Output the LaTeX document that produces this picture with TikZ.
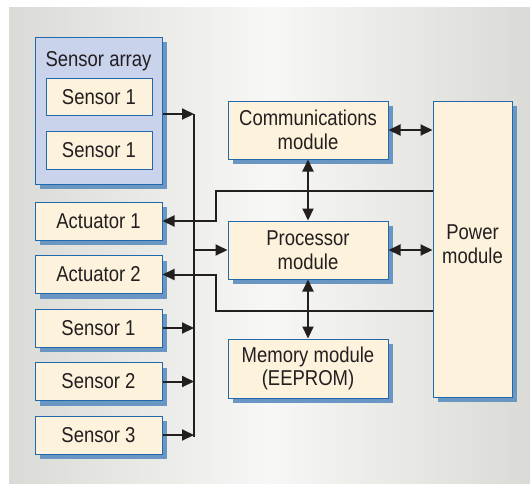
\documentclass[tikz,border=0pt]{standalone}
\usepackage{fontspec}
\setmainfont{Liberation Sans}[FakeStretch=0.86]
\usetikzlibrary{arrows.meta,shadows}
\definecolor{boxfill}{HTML}{FDF2DC}
\definecolor{boxline}{HTML}{2169AB}
\definecolor{shadowblue}{HTML}{6A96C3}
\definecolor{arrayfill}{HTML}{C9D3EC}
\definecolor{inkblack}{HTML}{231F20}
\definecolor{panelside}{HTML}{DADBD6}
\definecolor{panelmid}{HTML}{F7F7F5}
\begin{document}
\begin{tikzpicture}[x=1pt,y=-1pt,font=\fontsize{21.5}{23.5}\selectfont]
\tikzset{module/.style={draw=boxline,line width=1pt,fill=boxfill,text=inkblack,align=center,inner sep=0pt,
  minimum width=127pt,minimum height=38pt,
  drop shadow={shadow xshift=5pt,shadow yshift=-5pt,fill=shadowblue,opacity=1}}}
\tikzset{inner/.style={draw=boxline,line width=1pt,fill=boxfill,text=inkblack,inner sep=0pt,
  minimum width=106pt,minimum height=37.5pt}}
\tikzset{bus/.style={line width=2pt,draw=inkblack}}
\tikzset{onearrow/.style={-{Triangle[length=12pt,width=11pt]}}}
\tikzset{twoarrow/.style={{Triangle[length=12pt,width=11pt]}-{Triangle[length=12pt,width=11pt]}}}
% background panel
\useasboundingbox (0,0) rectangle (530,483);
\shade[left color=panelside,right color=panelside,middle color=panelmid] (9,7) rectangle (530,483);
% sensor array
\node[module,fill=arrayfill,minimum width=127pt,minimum height=147pt] (sarray) at (98.5,110.5) {};
\node[anchor=base,text=inkblack] (sarraytitle) at (98.5,66.5) {Sensor array};
\node[inner] (sa1) at (99,97) {Sensor 1};
\node[inner] (sa2) at (99,150.5) {Sensor 1};
% left column
\node[module] (act1) at (98.5,221) {Actuator 1};
\node[module] (act2) at (98.5,274.5) {Actuator 2};
\node[module] (sen1) at (98.5,328) {Sensor 1};
\node[module] (sen2) at (98.5,381.5) {Sensor 2};
\node[module] (sen3) at (98.5,435) {Sensor 3};
% modules
\node[module,minimum width=160pt,minimum height=58pt] (comm) at (308,130) {Communications\\module};
\node[module,minimum width=160pt,minimum height=58pt] (proc) at (308,250) {Processor\\module};
\node[module,minimum width=160pt,minimum height=59pt] (mem) at (308,368.5) {Memory module\\(EEPROM)};
\node[module,minimum width=79pt,minimum height=296pt] (power) at (472.5,249) {};
\node[text=inkblack,align=center] (powertext) at (472.5,244) {Power\\module};
% the bus
\coordinate (busT) at (194,114);
\coordinate (busB) at (194,437);
\draw[bus] (busT) -- (busB);
\draw[bus,onearrow] (sarray.east |- busT) -- (busT);
\foreach \s in {sen1,sen2,sen3} {
\draw[bus,onearrow] (\s.east) -- (\s.east -| busT);
}
\draw[bus,onearrow] (busT |- proc.west) -- (proc.west);
% lines back to the actuators
\draw[bus,onearrow] (power.west |- 0,191) -| (216,221) -- (act1.east);
\draw[bus,onearrow] (power.west |- 0,311) -| (216,274.5) -- (act2.east);
% links between modules
\draw[bus,twoarrow] (comm.south) -- (proc.north);
\draw[bus,twoarrow] (proc.south) -- (mem.north);
\draw[bus,twoarrow] (comm.east) -- (comm.east -| power.west);
\draw[bus,twoarrow] (proc.east) -- (proc.east -| power.west);
\end{tikzpicture}
\end{document}
